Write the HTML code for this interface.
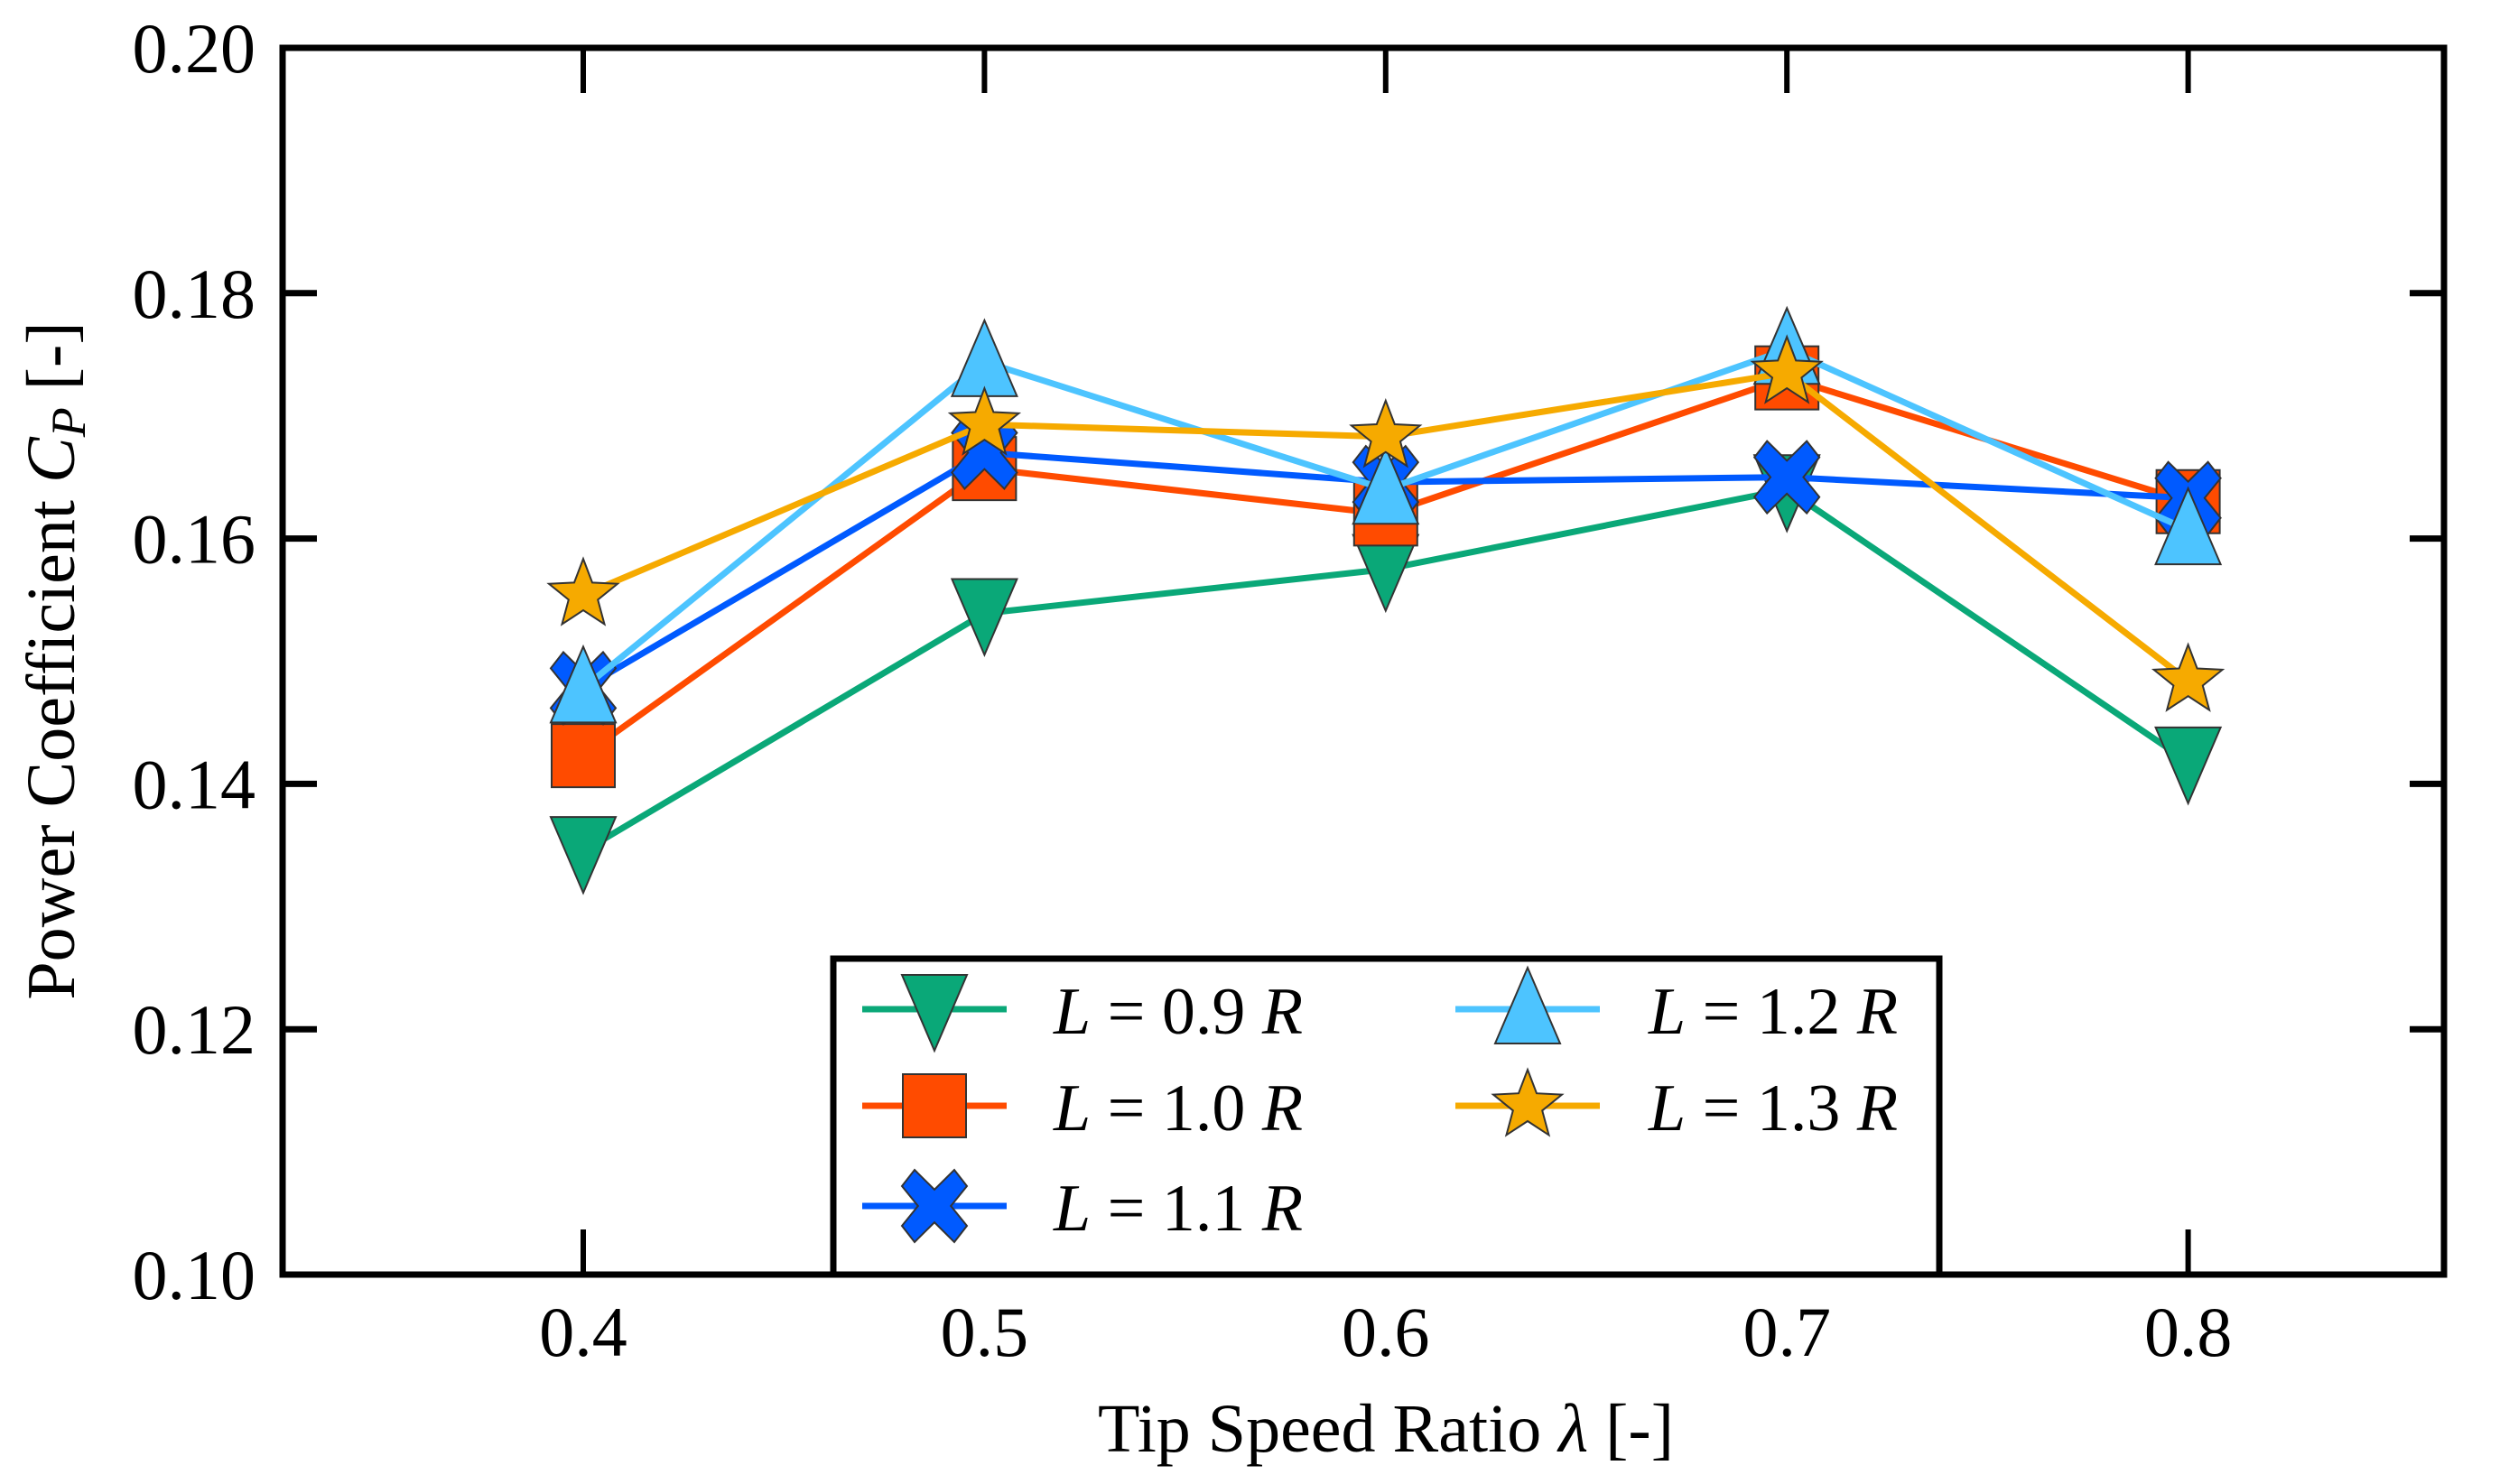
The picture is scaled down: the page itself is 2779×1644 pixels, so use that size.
<!DOCTYPE html>
<html><head><meta charset="utf-8"><style>
html,body{margin:0;padding:0;background:#fff}
svg{display:block}
text{font-family:"Liberation Serif",serif;fill:#000}
</style></head><body>
<svg id="chart" width="2779" height="1644" viewBox="0 0 2779 1644" xmlns="http://www.w3.org/2000/svg">
<g id="marks"></g>
<g id="axes"></g>
<g id="legend"></g>
</svg>
<script>
const categories = [0.4, 0.5, 0.6, 0.7, 0.8];
const seriesL09 = [0.1345, 0.1539, 0.1575, 0.1640, 0.1418];
const seriesL10 = [0.1423, 0.1657, 0.1620, 0.1731, 0.1630];
const seriesL11 = [0.1478, 0.1670, 0.1646, 0.1650, 0.1633];
const seriesL12 = [0.1478, 0.1744, 0.1640, 0.1754, 0.1607];
const seriesL13 = [0.1554, 0.1693, 0.1683, 0.1735, 0.1484];
const seriesNames = ["0.9", "1.0", "1.1", "1.2", "1.3"];
const yTicks = [0.10, 0.12, 0.14, 0.16, 0.18, 0.20];
const yTickLabels = ["0.10", "0.12", "0.14", "0.16", "0.18", "0.20"];
const xTickLabels = ["0.4", "0.5", "0.6", "0.7", "0.8"];

const NS = "http://www.w3.org/2000/svg";
const L = 313, R = 2707, T = 53, B = 1412;
const X0 = 0.4, XPX0 = 646, XPX_PER = 4444; // 0.1 -> 444.4px
function xs(v){ return XPX0 + (v - X0) * XPX_PER; }
function ys(v){ return B - (v - 0.10) / 0.10 * (B - T); }
function mk(tag, attrs, parent){
  const e = document.createElementNS(NS, tag);
  for (const k in attrs) e.setAttribute(k, attrs[k]);
  parent.appendChild(e);
  return e;
}
const colors = ["#0aa878", "#ff4b00", "#005aff", "#4dc4ff", "#f6aa00"];
const shapes = ["tri-down", "square", "x", "tri-up", "star"];
const allSeries = [seriesL09, seriesL10, seriesL11, seriesL12, seriesL13];

function markerPoints(shape, cx, cy){
  let p = [];
  if (shape === "tri-down"){ p = [[-36,-38],[36,-38],[0,46]]; }
  else if (shape === "tri-up"){ p = [[0,-46],[36,38],[-36,38]]; }
  else if (shape === "square"){ p = [[-35,-35],[35,-35],[35,35],[-35,35]]; }
  else if (shape === "x"){
    const a = 36, w = 14;
    p = [[-a+w,-a-4],[0,-w*1.3],[a-w,-a-4],[a,-a+w],[w*1.3,0],[a,a-w],[a-w,a+4],[0,w*1.3],[-a+w,a+4],[-a,a-w],[-w*1.3,0],[-a,-a+w]];
  } else if (shape === "star"){
    for (let i=0;i<10;i++){
      const r = i%2===0 ? 40 : 17;
      const ang = -Math.PI/2 + i*Math.PI/5;
      p.push([r*Math.cos(ang), r*Math.sin(ang)]);
    }
  }
  return p.map(q => (cx+q[0]).toFixed(1)+","+(cy+q[1]).toFixed(1)).join(" ");
}

const marks = document.getElementById("marks");
allSeries.forEach((vals, si) => {
  const g = mk("g", {}, marks);
  
  
  const pts = vals.map((v,i) => xs(categories[i]).toFixed(1)+","+ys(v).toFixed(1)).join(" ");
  const line = mk("polyline", {points: pts, fill: "none", stroke: colors[si], "stroke-width": 7, "stroke-linejoin": "round"}, g);
  
  
  vals.forEach((v,i) => {
    const m = mk("polygon", {points: markerPoints(shapes[si], xs(categories[i]), ys(v)), fill: colors[si], stroke: "#333", "stroke-width": 2}, g);
    
    
  });
});

const axes = document.getElementById("axes");
const frame = mk("rect", {x: L, y: T, width: R-L, height: B-T, fill: "none", stroke: "#000", "stroke-width": 7}, axes);


yTicks.forEach((t, i) => {
  const y = ys(t);
  const tk = mk("path", {d: `M${L},${y}h38M${R},${y}h-38`, stroke: "#000", "stroke-width": 7}, axes);
  
  
  const tx = mk("text", {x: 283, y: y + 27, "text-anchor": "end", "font-size": 78}, axes);
  tx.textContent = yTickLabels[i];
  
  
});
categories.forEach((c, i) => {
  const x = xs(c);
  const tk = mk("path", {d: `M${x},${B}v-50M${x},${T}v50`, stroke: "#000", "stroke-width": 6}, axes);
  
  
  const tx = mk("text", {x: x, y: 1502, "text-anchor": "middle", "font-size": 78}, axes);
  tx.textContent = xTickLabels[i];
  
  
});
const xl = mk("text", {x: 1535, y: 1608, "text-anchor": "middle", "font-size": 76}, axes);
xl.innerHTML = 'Tip Speed Ratio <tspan font-style="italic">λ</tspan> [-]';


const yl = mk("text", {x: 0, y: 0, "text-anchor": "middle", "font-size": 76, transform: "translate(82,732) rotate(-90)"}, axes);
yl.innerHTML = 'Power Coefficient <tspan font-style="italic">C</tspan><tspan font-style="italic" font-size="54" dy="12">P</tspan><tspan dy="-12"> [-]</tspan>';



const leg = document.getElementById("legend");
const box = mk("rect", {x: 923, y: 1062, width: 1225, height: 350, fill: "#fff", stroke: "#000", "stroke-width": 7}, leg);


const legPos = [[0,0],[0,1],[0,2],[1,0],[1,1]];
const colX = [955, 1612], rowY = [1118, 1225, 1336], textX = [1167, 1826];
allSeries.forEach((vals, si) => {
  const col = legPos[si][0], row = legPos[si][1];
  const g = mk("g", {}, leg);
  
  
  const y = rowY[row];
  mk("line", {x1: colX[col], y1: y, x2: colX[col]+160, y2: y, stroke: colors[si], "stroke-width": 7}, g);
  mk("polygon", {points: markerPoints(shapes[si], colX[col]+80, y), fill: colors[si], stroke: "#333", "stroke-width": 2}, g);
  const t = mk("text", {x: textX[col], y: y + 27, "font-size": 74}, g);
  t.innerHTML = '<tspan font-style="italic">L</tspan> = ' + seriesNames[si] + ' <tspan font-style="italic">R</tspan>';
});
</script>
</body></html>
